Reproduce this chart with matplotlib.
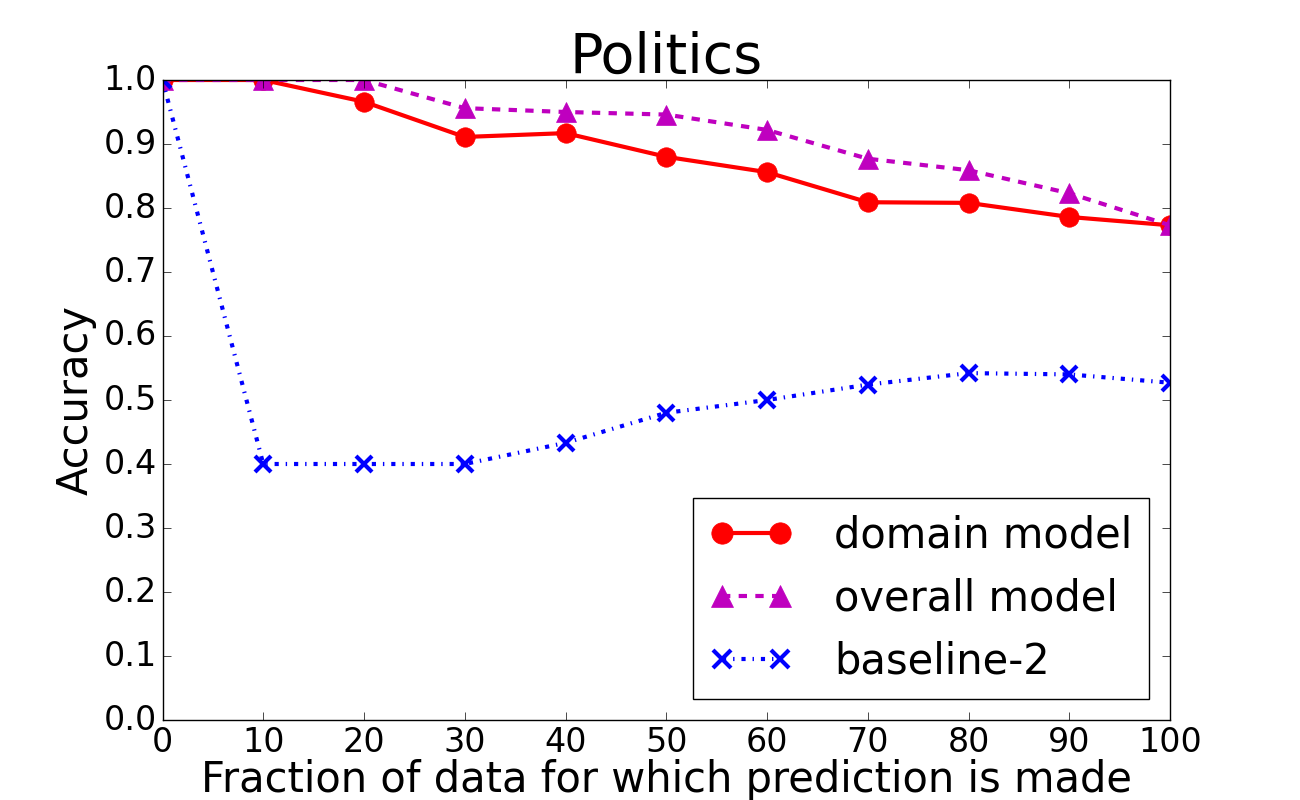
import numpy as np
import matplotlib
matplotlib.use('Agg')
import matplotlib.pyplot as plt

plt.style.use('classic')

# Data
fractions = [0, 10, 20, 30, 40, 50, 60, 70, 80, 90, 100]
domain_acc = [1.0, 1.0, 0.966, 0.911, 0.917, 0.880, 0.856, 0.809, 0.808, 0.786, 0.773]
overall_acc = [1.0, 1.0, 1.0, 0.956, 0.950, 0.946, 0.922, 0.877, 0.859, 0.823, 0.773]
baseline_acc = [1.0, 0.40, 0.40, 0.40, 0.433, 0.480, 0.500, 0.524, 0.542, 0.540, 0.527]

fig = plt.figure(figsize=(13, 8), dpi=100, facecolor='white')
ax = fig.add_subplot(111)

ax.plot(fractions, domain_acc, 'r-o', lw=3, ms=14, mec='r', label='domain model')
ax.plot(fractions, overall_acc, 'm--^', lw=3, ms=14, mec='m', label='overall model')
ax.plot(fractions, baseline_acc, 'b-.x', lw=3, ms=12, mew=3, label='baseline-2')

ax.set_xlim(0, 100)
ax.set_ylim(0.0, 1.0)
ax.set_xticks(np.arange(0, 101, 10))
ax.set_yticks(np.arange(0, 1.01, 0.1))
ax.tick_params(labelsize=24, length=6)

ax.set_title('Politics', fontsize=40)
ax.set_xlabel('Fraction of data for which prediction is made', fontsize=30, labelpad=0)
ax.set_ylabel('Accuracy', fontsize=30)

ax.legend(loc='lower right', fontsize=30, numpoints=2, handletextpad=1.0,
          markerscale=1.1)

fig.savefig('out.png', dpi=100, facecolor='white')
